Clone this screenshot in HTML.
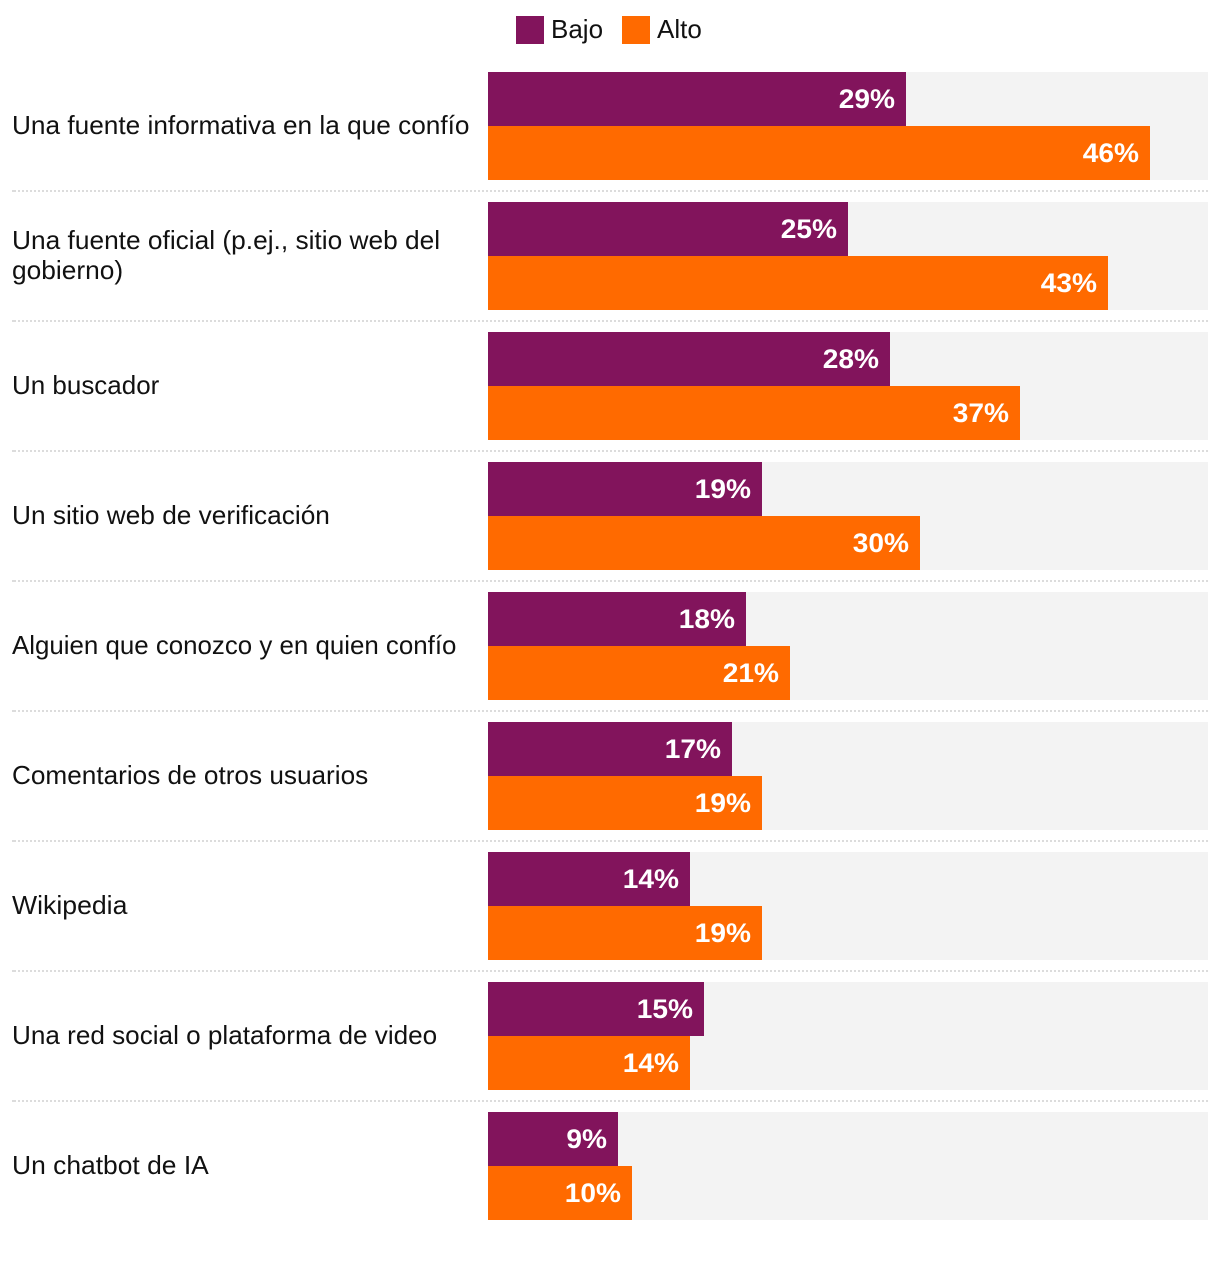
<!DOCTYPE html>
<html lang="es">
<head>
<meta charset="utf-8">
<title>Fuentes de verificación</title>
<style>
html,body{margin:0;padding:0;background:#fff;width:1220px;height:1272px;overflow:hidden}
svg{display:block;font-family:"Liberation Sans",sans-serif}
.cat{font-size:26px;fill:#111}
.leg{font-size:26px;fill:#111}
.val{font-size:27px;font-weight:700;fill:#fff;text-anchor:end}
</style>
</head>
<body>
<svg id="chart" width="1220" height="1272" viewBox="0 0 1220 1272" xmlns="http://www.w3.org/2000/svg">
  <g>
    <rect x="516" y="16" width="28" height="28" fill="#82145c"/>
    <text class="leg" x="551" y="38">Bajo</text>
    <rect x="622" y="16" width="28" height="28" fill="#ff6a00"/>
    <text class="leg" x="657" y="38">Alto</text>
  </g>
  <g id="rows"></g>
</svg>
<script>
const categories = [
  ["Una fuente informativa en la que confío"],
  ["Una fuente oficial (p.ej., sitio web del", "gobierno)"],
  ["Un buscador"],
  ["Un sitio web de verificación"],
  ["Alguien que conozco y en quien confío"],
  ["Comentarios de otros usuarios"],
  ["Wikipedia"],
  ["Una red social o plataforma de video"],
  ["Un chatbot de IA"]
];
const bajoValues = [29, 25, 27.9, 19, 17.9, 17, 14, 15, 9];
const altoValues = [46, 43, 37, 30, 21, 19, 19, 14, 10];
const axisMax = 50;

const NS = "http://www.w3.org/2000/svg";
const rowsGroup = document.getElementById("rows");
const plotLeft = 488, plotWidth = 720, rowStep = 130, rowTop = 72, barHeight = 54;
const labelFit = [1.008, 1.011, 0.999, 1.009, 0.995, 1.006, 1.024, 1.004, 1.016];
const valueWidthScale = 1.04;

function xScale(v) { return Math.round(plotWidth * v / axisMax / 2) * 2; }
function yRow(i) { return rowTop + rowStep * i; }

function make(tag, attrs, parent) {
  const el = document.createElementNS(NS, tag);
  for (const k in attrs) el.setAttribute(k, attrs[k]);
  parent.appendChild(el);
  return el;
}

function stretch(t, factor) {
  t.setAttribute("textLength", (t.getComputedTextLength() * factor).toFixed(1));
  t.setAttribute("lengthAdjust", "spacingAndGlyphs");
}

function drawBar(group, i, offset, value, color, seriesName) {
  const y = yRow(i) + offset;
  const bar = make("rect", {x: plotLeft, y: y, width: xScale(value), height: barHeight, fill: color, "shape-rendering": "crispEdges"}, group);
  
  
  const label = make("text", {class: "val", x: plotLeft + xScale(value) - 11, y: y + 36}, group);
  
  
  label.textContent = Math.round(value) + "%";
  stretch(label, valueWidthScale);
}

categories.forEach(function (lines, i) {
  const group = make("g", {}, rowsGroup);
  
  

  const track = make("rect", {x: plotLeft, y: yRow(i), width: plotWidth, height: barHeight * 2, fill: "#f3f3f3"}, group);
  
  

  drawBar(group, i, 0, bajoValues[i], "#82145c", "bajo");
  drawBar(group, i, barHeight, altoValues[i], "#ff6a00", "alto");

  const mid = yRow(i) + barHeight + 8;
  lines.forEach(function (line, j) {
    const t = make("text", {class: "cat", x: 12, y: mid + (j - (lines.length - 1) / 2) * 30}, group);
    
    
    t.textContent = line;
    stretch(t, labelFit[i]);
  });

  if (i < categories.length - 1) {
    const sepY = yRow(i) + barHeight * 2 + 11;
    const sep = make("line", {x1: 14, x2: 1208, y1: sepY, y2: sepY, stroke: "#dcdcdc", "stroke-width": 2, "stroke-dasharray": "2 2", "shape-rendering": "crispEdges"}, group);
    
    
    const sepStart = make("line", {x1: 12, x2: 14, y1: sepY, y2: sepY, stroke: "#dcdcdc", "stroke-width": 2, "shape-rendering": "crispEdges"}, group);
    
    
  }
});
</script>
</body>
</html>
